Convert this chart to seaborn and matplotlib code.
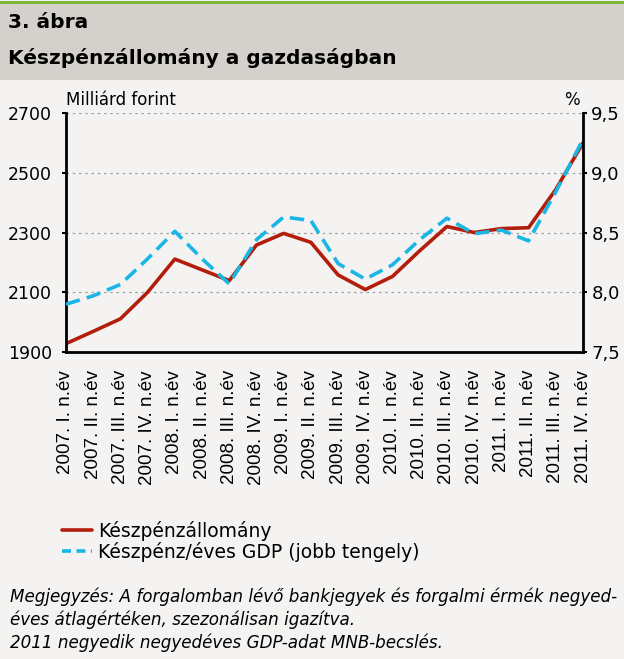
import pandas as pd
import numpy as np
import matplotlib.pyplot as plt
import seaborn as sns
from matplotlib.patches import Rectangle
from matplotlib.lines import Line2D

# Data
quarters = ['2007. I. n.év', '2007. II. n.év', '2007. III. n.év', '2007. IV. n.év',
            '2008. I. n.év', '2008. II. n.év', '2008. III. n.év', '2008. IV. n.év',
            '2009. I. n.év', '2009. II. n.év', '2009. III. n.év', '2009. IV. n.év',
            '2010. I. n.év', '2010. II. n.év', '2010. III. n.év', '2010. IV. n.év',
            '2011. I. n.év', '2011. II. n.év', '2011. III. n.év', '2011. IV. n.év']
cash_stock = [1928, 1969, 2011, 2100, 2211, 2175, 2139, 2258, 2297, 2267,
              2158, 2109, 2153, 2239, 2320, 2300, 2313, 2316, 2444, 2600]
cash_gdp = [7.90, 7.97, 8.065, 8.28, 8.51, 8.28, 8.07, 8.44, 8.63, 8.60,
            8.24, 8.11, 8.23, 8.44, 8.62, 8.49, 8.52, 8.43, 8.84, 9.28]

df = pd.DataFrame({'pos': np.arange(len(quarters)), 'quarter': quarters,
                   'cash': cash_stock, 'ratio': cash_gdp})

sns.set_style('white')
plt.rcParams['font.family'] = ['DejaVu Sans']
for k in ['text.color', 'axes.labelcolor', 'xtick.color', 'ytick.color']:
    plt.rcParams[k] = 'black'

red = '#b31e0c'
blue = '#19b6e6'
bg = '#f4f3f1'

fig = plt.figure(figsize=(6.24, 6.59), dpi=100, facecolor=bg)

# header band
fig.patches.append(Rectangle((0, 1 - 80 / 659), 1, 76 / 659, transform=fig.transFigure,
                             facecolor='#d4d0cc', edgecolor='none', zorder=0))
fig.patches.append(Rectangle((0, 1 - 4 / 659), 1, 3 / 659, transform=fig.transFigure,
                             facecolor='#7db63a', edgecolor='none', zorder=0))
fig.text(8 / 624, 1 - 22 / 659, '3. ábra', fontsize=14.5, fontweight='bold', va='center', ha='left')
fig.text(8 / 624, 1 - 58 / 659, 'Készpénzállomány a gazdaságban', fontsize=14.5,
         fontweight='bold', va='center', ha='left')

ax = fig.add_axes([66 / 624, 1 - 352 / 659, (583 - 66) / 624, (352 - 113) / 659])
ax.set_facecolor(bg)
sns.lineplot(data=df, x='pos', y='cash', ax=ax, color=red, linewidth=2.6, legend=False)
ax.set_xlim(0, 19)
ax.set_ylim(1900, 2700)
ax.set_yticks([1900, 2100, 2300, 2500, 2700])
ax.set_xticks(df['pos'])
ax.set_xticklabels(quarters, rotation=90, fontsize=13.5, family='Liberation Sans')
ax.set_xlabel('')
ax.set_ylabel('')
ax.tick_params(axis='y', labelsize=12.5, length=3, width=1.5, direction='out', pad=7)
ax.tick_params(axis='x', length=3, width=1.5, direction='out', pad=10)
for y in [2100, 2300, 2500, 2700]:
    ax.axhline(y, color='#a0a0a0', linestyle=(0, (2, 3)), linewidth=0.9, zorder=0)
for s in ['top', 'right']:
    ax.spines[s].set_visible(False)
for s in ['left', 'bottom']:
    ax.spines[s].set_linewidth(2)
    ax.spines[s].set_color('black')

ax2 = ax.twinx()
sns.lineplot(data=df, x='pos', y='ratio', ax=ax2, color=blue, linewidth=2.6, legend=False)
ax2.lines[0].set_dashes((4, 2))
ax2.set_ylim(7.5, 9.5)
ax2.set_yticks([7.5, 8.0, 8.5, 9.0, 9.5])
ax2.set_yticklabels(['7,5', '8,0', '8,5', '9,0', '9,5'])
ax2.set_ylabel('')
ax2.tick_params(axis='y', labelsize=13, length=3, width=1.5, direction='out', pad=3)
for s in ['top', 'left', 'bottom']:
    ax2.spines[s].set_visible(False)
ax2.spines['right'].set_linewidth(2)
ax2.spines['right'].set_color('black')

fig.text(66 / 624, 1 - 100 / 659, 'Milliárd forint', fontsize=12, va='center', ha='left')
fig.text(580 / 624, 1 - 100 / 659, '%', fontsize=12, va='center', ha='right')

handles = [Line2D([], [], color=red, linewidth=2.6),
           Line2D([], [], color=blue, linewidth=2.6, dashes=(2.5, 1.5))]
fig.legend(handles, ['Készpénzállomány', 'Készpénz/éves GDP (jobb tengely)'],
           loc='upper left', bbox_to_anchor=(62 / 624, 1 - 521 / 659), frameon=False,
           fontsize=13.5, handlelength=1.6, handletextpad=0.3, labelspacing=0.05,
           borderpad=0, borderaxespad=0)

notes = ['Megjegyzés: A forgalomban lévő bankjegyek és forgalmi érmék negyed-',
         'éves átlagértéken, szezonálisan igazítva.',
         '2011 negyedik negyedéves GDP-adat MNB-becslés.']
for i, line in enumerate(notes):
    fig.text(10 / 624, 1 - (597 + 23 * i) / 659, line, fontsize=12.1, style='italic',
             va='center', ha='left')

fig.savefig('out.png', dpi=100, facecolor=bg)
